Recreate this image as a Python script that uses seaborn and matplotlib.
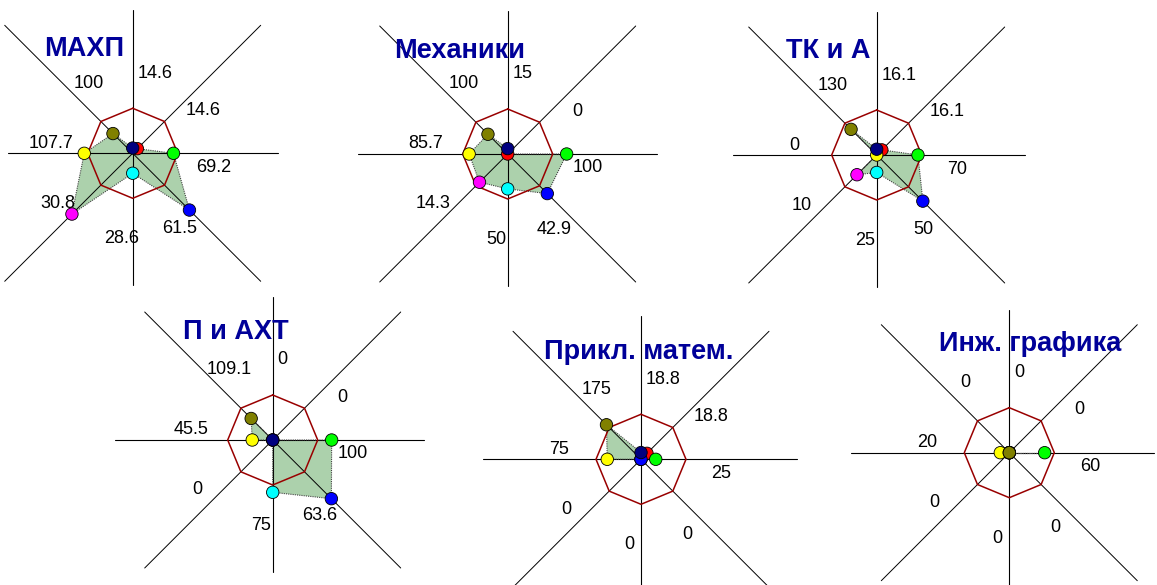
import numpy as np
import pandas as pd
import matplotlib
matplotlib.use("Agg")
import matplotlib.pyplot as plt
import seaborn as sns

# 8 rays, clockwise from the top
directions = ["N", "NE", "E", "SE", "S", "SW", "W", "NW"]
titles = ["МАХП", "Механики", "ТК и А", "П и АХТ", "Прикл. матем.", "Инж. графика"]

makhp = [14.6, 14.6, 69.2, 61.5, 28.6, 30.8, 107.7, 100]
mekhaniki = [15, 0, 100, 42.9, 50, 14.3, 85.7, 100]
tk_i_a = [16.1, 16.1, 70, 50, 25, 10, 0, 130]
p_i_akht = [0, 0, 100, 63.6, 75, 0, 45.5, 109.1]
prikl_matem = [18.8, 18.8, 25, 0, 0, 0, 75, 175]
inzh_grafika = [0, 0, 60, 0, 0, 0, 20, 0]
panels = [makhp, mekhaniki, tk_i_a, p_i_akht, prikl_matem, inzh_grafika]

# plotted radius per label unit on each ray (octagon = 100)
ray_weights = [0.8, 1.0, 1.31, 2.9, 1.55, 6.2, 1.0, 0.62]
ray_colors = {"N": "#000080", "NE": "#ff0000", "E": "#00ff00", "SE": "#0000ff",
              "S": "#00ffff", "SW": "#ff00ff", "W": "#ffff00", "NW": "#808000"}
draw_order = ["S", "SW", "NE", "E", "SE", "W", "N", "NW"]

sns.set_theme(style="white")
plt.rcParams["font.family"] = ["Liberation Sans", "DejaVu Sans"]

W, H = 1157, 585
S = 0.45      # pixels per unit
half = 165    # half size of each panel, px
centers = [(132.7, 153.3), (507.7, 154), (876.7, 155),
           (272.7, 440), (641, 459.3), (1009.3, 452.7)]
h_extent = [(125, 145), (150, 149), (144, 148), (158, 151), (158, 156), (158, 145)]
title_pos = [(-49, -97), (-48, -96), (-48.7, -96.5),
             (-37, -101), (-2.7, -100), (21, -101.5)]
# label offsets from the centre, px (x right, y down)
label_pos = {"N": (5, -80), "NE": (70, -43), "E": (80.5, 14), "SE": (46.5, 75),
             "S": (-11.5, 85.5), "SW": (-75, 50), "W": (-82, -10), "NW": (-44, -70)}

ang = np.deg2rad(np.arange(8) * 45)

fig = plt.figure(figsize=(W / 100, H / 100), dpi=100)

for i, vals in enumerate(panels):
    cx, cy = centers[i]
    ax = fig.add_axes([(cx - half) / W, (H - cy - half) / H, 2 * half / W, 2 * half / H])
    lim = half / S
    ax.axis("off")
    ax.patch.set_alpha(0)

    # axis rays
    hl, hr = h_extent[i]
    ax.plot([-hl / S, hr / S], [0, 0], color="black", lw=0.8, zorder=2)
    ax.plot([0, 0], [143 / S, -132 / S], color="black", lw=0.8, zorder=2)
    d = 128 / S
    ax.plot([-d, d], [d, -d], color="black", lw=0.7, zorder=2)
    ax.plot([-d, d], [-d, d], color="black", lw=0.7, zorder=2)

    # reference octagon at 100
    ox = 100 * np.sin(np.append(ang, ang[0]))
    oy = 100 * np.cos(np.append(ang, ang[0]))
    ax.plot(ox, oy, color="#990000", lw=1.1, zorder=3)

    r = np.array(vals) * np.array(ray_weights)
    df = pd.DataFrame({"dir": directions, "x": r * np.sin(ang), "y": r * np.cos(ang)})

    ax.fill(df["x"], df["y"], color="#acd1ac", lw=0, zorder=1)
    ax.plot(np.append(df["x"], df["x"][0]), np.append(df["y"], df["y"][0]),
            color="#444444", lw=0.8, ls=(0, (1, 1)), zorder=2.5)

    dfo = df.set_index("dir").loc[draw_order].reset_index()
    sns.scatterplot(data=dfo, x="x", y="y", hue="dir", palette=ray_colors,
                    s=80, edgecolor="black", linewidth=0.6, legend=False,
                    ax=ax, zorder=4)
    ax.set_xlim(-lim, lim)
    ax.set_ylim(-lim, lim)
    ax.set_xlabel("")
    ax.set_ylabel("")

    for k, dname in enumerate(directions):
        lx, ly = label_pos[dname]
        ax.text(lx / S, -ly / S, f"{vals[k]:g}", fontsize=13,
                ha="left" if dname == "N" else "center", va="center",
                color="black", zorder=5)

    tx, ty = title_pos[i]
    ax.text(tx / S, -ty / S, titles[i], fontsize=19.5, fontweight="bold",
            color="#000099", ha="center", va="baseline", zorder=6)

fig.savefig("out.png", dpi=100)
plt.close(fig)
